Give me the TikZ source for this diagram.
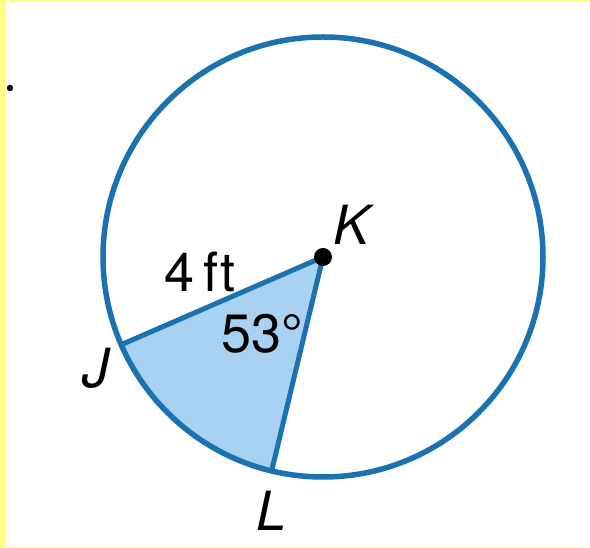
\documentclass[tikz,border=0pt]{standalone}
\usepackage{fontspec}
\setmainfont{TeX Gyre Heros}
\usepackage{tikz}
\usetikzlibrary{calc}
\usepackage{xcolor}
\definecolor{rimblue}{HTML}{1B72B0}
\definecolor{sectorblue}{HTML}{A9D2F2}
\definecolor{frameyellow}{HTML}{FFFF80}
\tikzset{
  rim/.style={draw=rimblue,line width=5.5pt},
  sector/.style={fill=sectorblue},
  radius line/.style={draw=rimblue,line width=5pt,line cap=round},
  labelstyle/.style={font=\fontsize{54}{60}\selectfont,inner sep=0pt},
  centre dot/.style={circle,fill=black,minimum size=18pt,inner sep=0pt}
}

\begin{document}
\begin{tikzpicture}[x=1pt,y=1pt]
      \useasboundingbox (0,0) rectangle (590,548);
      \fill[white] (0,0) rectangle (590,548);
      % yellow frame
      \fill[frameyellow] (0,0) rectangle (5,548);
      \fill[frameyellow] (0,546) rectangle (590,548);
      \fill[frameyellow] (0,0) rectangle (590,1);
      \fill[black] (10,460) circle[radius=3.2];
      \coordinate (K) at (323,291);
      \coordinate (J) at ($(K)+(203.5:220)$);
      \coordinate (L) at ($(K)+(256.5:220)$);
      \fill[sector] (K) -- (J) arc[start angle=203.5,end angle=256.5,radius=220] -- cycle;
      \draw[rim] (K) circle[radius=220];
      \draw[radius line] (J) -- (K) -- (L);
      \node[centre dot] (k) at (K) {};
      \node[labelstyle] (kl) at (352,323) {\itshape K};
      \node[labelstyle] (jl) at (96,180) {\itshape J};
      \node[labelstyle] (ll) at (272,37) {\itshape L};
      \node[labelstyle] (len) at (200,276) {4\,ft};
      \node[labelstyle] (ang) at (262,214) {53°};
    \end{tikzpicture}
\end{document}
